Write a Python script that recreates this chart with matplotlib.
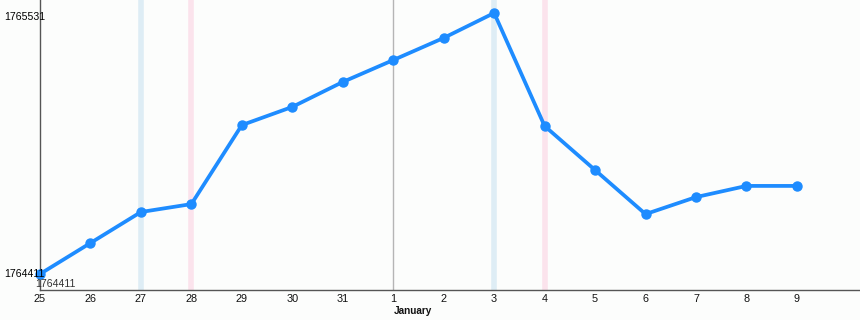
"""Daily values around the new year, with weekend bands and the January marker."""

import matplotlib.pyplot as plt
import numpy as np

# Tick labels along the bottom (late December, then January).
day_labels = ["25", "26", "27", "28", "29", "30", "31",
              "1", "2", "3", "4", "5", "6", "7", "8", "9"]
values = [1764411, 1764544, 1764677, 1764711, 1765050, 1765128, 1765235,
          1765329, 1765424, 1765531, 1765046, 1764857, 1764668, 1764741,
          1764789, 1764789]
saturdays = ["27", "3"]
sundays = ["28", "4"]
month_start = "1"
month_name = "January"

plt.rcParams["font.family"] = ["Liberation Sans", "DejaVu Sans"]

W, H = 860, 320
fig = plt.figure(figsize=(W / 100, H / 100), dpi=100, facecolor="#fcfdfc")
ax = fig.add_axes([40 / W, 30 / H, 820 / W, 290 / H])
ax.set_facecolor("#fcfdfc")

x = np.arange(len(day_labels))
lo, hi = min(values), max(values)
per_px = (hi - lo) / 261
ax.set_xlim(0, 16.25)
ax.set_ylim(lo - 16 * per_px, hi + 13 * per_px)

for d in saturdays:
    ax.axvline(day_labels.index(d), color="#deedf5", lw=4, zorder=1)
for d in sundays:
    ax.axvline(day_labels.index(d), color="#fbe3ec", lw=4, zorder=1)
ax.axvline(day_labels.index(month_start), color="#b5b5b5", lw=1, zorder=1)

ax.plot(x, values, color="#1e8cff", lw=2.7, marker="o", ms=6.5, zorder=3,
        solid_capstyle="round", clip_on=False)

ax.set_xticks(x)
ax.set_xticklabels(day_labels, fontsize=7.8, color="#111111")
ax.tick_params(axis="x", length=0, pad=3)
ax.set_yticks([])
ax.text(day_labels.index(month_start) + 0.02, -0.055, month_name,
        transform=ax.get_xaxis_transform(), ha="left", va="top",
        fontsize=7.2, fontweight="bold", color="#111111")

for side in ("top", "right"):
    ax.spines[side].set_visible(False)
for side in ("left", "bottom"):
    ax.spines[side].set_color("#555555")
    ax.spines[side].set_linewidth(1)

# Min / max labels at the left edge, overlapping the axis.
ax.text(-36 / 50.47, hi - 4 * per_px, str(hi), ha="left", va="center",
        fontsize=7.6, color="#000000", zorder=5)
ax.text(-36 / 50.47, lo, str(lo), ha="left", va="center",
        fontsize=7.6, color="#000000", zorder=5)
ax.text(-0.1, lo - 10 * per_px, str(lo), ha="left", va="center",
        fontsize=7.6, color="#333333", zorder=5)

fig.savefig("out.png", dpi=100, facecolor=fig.get_facecolor())
